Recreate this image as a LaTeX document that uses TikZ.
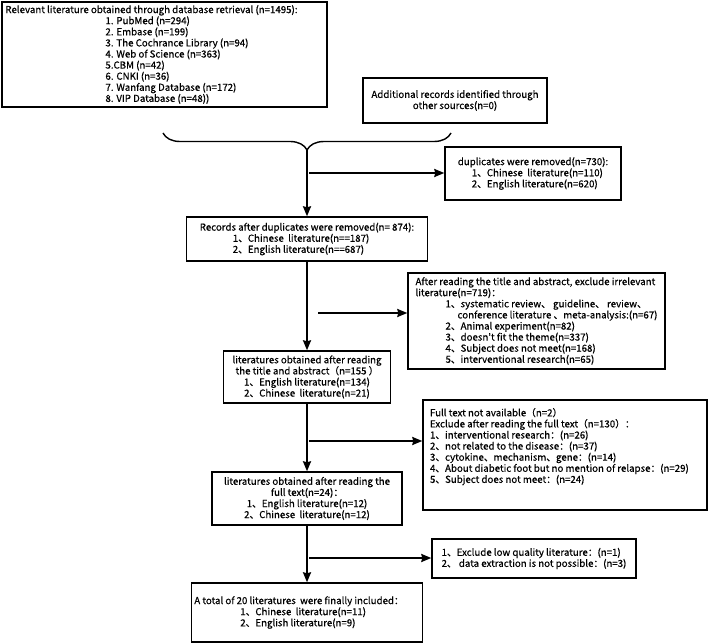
\documentclass[tikz,border=0pt]{standalone}
\usepackage{fontspec}
\setmainfont{Noto Sans CJK SC}[Ligatures=TeXOff, FakeBold=0.5]
\usetikzlibrary{arrows.meta,decorations.pathreplacing}

\begin{document}
\begin{tikzpicture}[x=1pt, y=-1pt, >={Stealth[length=10pt,width=8pt,inset=1pt]},
  box/.style={draw, line width=1.4pt, inner sep=3pt, align=center,
    font=\fontsize{9.7}{11.1}\selectfont},
  flow/.style={->, line width=2pt}]

\useasboundingbox (0,0) rectangle (709,644);

\node[box, align=left, minimum width=325pt, minimum height=105pt] (db) at (164.5,54.5)
  {Relevant literature obtained through database retrieval (n=1495):\hspace*{26pt}\\
   \hspace*{100pt}1. PubMed (n=294)\\
   \hspace*{100pt}2. Embase (n=199)\\
   \hspace*{100pt}3. The Cochrance Library (n=94)\\
   \hspace*{100pt}4. Web of Science (n=363)\\
   \hspace*{100pt}5.CBM (n=42)\\
   \hspace*{100pt}6. CNKI (n=36)\\
   \hspace*{100pt}7. Wanfang Database (n=172)\\
   \hspace*{100pt}8. VIP Database (n=48))};
\node[box, minimum width=184pt, minimum height=45pt] (other) at (455,100.5)
  {Additional records identified through\\ other sources(n=0)};

\draw[line width=1.4pt, decorate, decoration={brace, mirror, amplitude=17pt}] (163,133) -- (451,133);
\coordinate (tip) at (307,150);

\node[box, align=left, minimum width=176pt, minimum height=53pt] (dup) at (533,173.5)
  {duplicates were removed(n=730):\\
   \hspace*{14pt}1、Chinese\ \ literature(n=110)\\
   \hspace*{14pt}2、English literature(n=620)};
\node[box, align=left, minimum width=241pt, minimum height=44pt] (rec) at (307,239)
  {Records after duplicates were removed(n= 874):\\
   \hspace*{33pt}1、Chinese\ \ literature(n==187)\\
   \hspace*{33pt}2、English literature(n==687)};
\node[box, align=left, minimum width=257pt, minimum height=96pt] (exta) at (536.5,321)
  {After reading the title and abstract, exclude irrelevant\\
   literature(n=719)：\\
   \hspace*{30pt}1、systematic review、 guideline、 review、\\
   \hspace*{42pt}conference literature 、meta-analysis:(n=67)\\
   \hspace*{30pt}2、Animal experiment(n=82)\\
   \hspace*{30pt}3、doesn't fit the theme(n=337)\\
   \hspace*{30pt}4、Subject does not meet(n=168)\\
   \hspace*{30pt}5、interventional research(n=65)};
\node[box, minimum width=167pt, minimum height=52pt] (ta) at (307,377)
  {literatures obtained after reading\\
   the title and abstract（n=155 ）\\
   1、English literature(n=134)\\
   2、Chinese\ \ literature(n=21)};
\node[box, inner xsep=7pt, inner ysep=0pt] (exft) at (565,455)
  {\parbox[c][110pt][t]{270pt}{\raggedright\vspace{8pt}
   Full text not available（n=2）\\
   Exclude after reading the full text（n=130）：\\
   1、interventional research：(n=26)\\
   2、not related to the disease：(n=37)\\
   3、cytokine、mechanism、gene：(n=14)\\
   4、About diabetic foot but no mention of relapse：(n=29)\\
   5、Subject does not meet：(n=24)}};
\node[box, minimum width=190pt, minimum height=53pt] (ft) at (307,498.5)
  {literatures obtained after reading the\\
   full text(n=24)：\\
   1、English literature(n=12)\\
   2、Chinese\ \ literature(n=12)};
\node[box, align=left, minimum width=204pt, minimum height=39pt] (lq) at (534,558.5)
  {1、Exclude low quality literature：(n=1)\\
   2、\ data extraction is not possible：(n=3)};
\node[box, align=left, minimum width=230pt, minimum height=59pt] (fin) at (307,612.5)
  {A total of 20 literatures\ \ were finally included：\hspace*{16pt}\\
   \hspace*{46pt}1、Chinese\ \ literature(n=11)\\
   \hspace*{46pt}2、English literature(n=9)};

\coordinate (b1) at (309,173);
\coordinate (b2) at (318,313);
\coordinate (b3) at (309,441);
\coordinate (b4) at (309,558);

\draw[flow] (tip) -- (rec.north);
\draw[flow] (rec.south) -- (ta.north);
\draw[flow] (ta.south) -- (ft.north);
\draw[flow] (ft.south) -- (fin.north);

\draw[flow] (b1) -- (b1 -| dup.west);
\draw[flow] (b2) -- (b2 -| exta.west);
\draw[flow] (b3) -- (b3 -| exft.west);
\draw[flow] (b4) -- (b4 -| lq.west);

\end{tikzpicture}
\end{document}
